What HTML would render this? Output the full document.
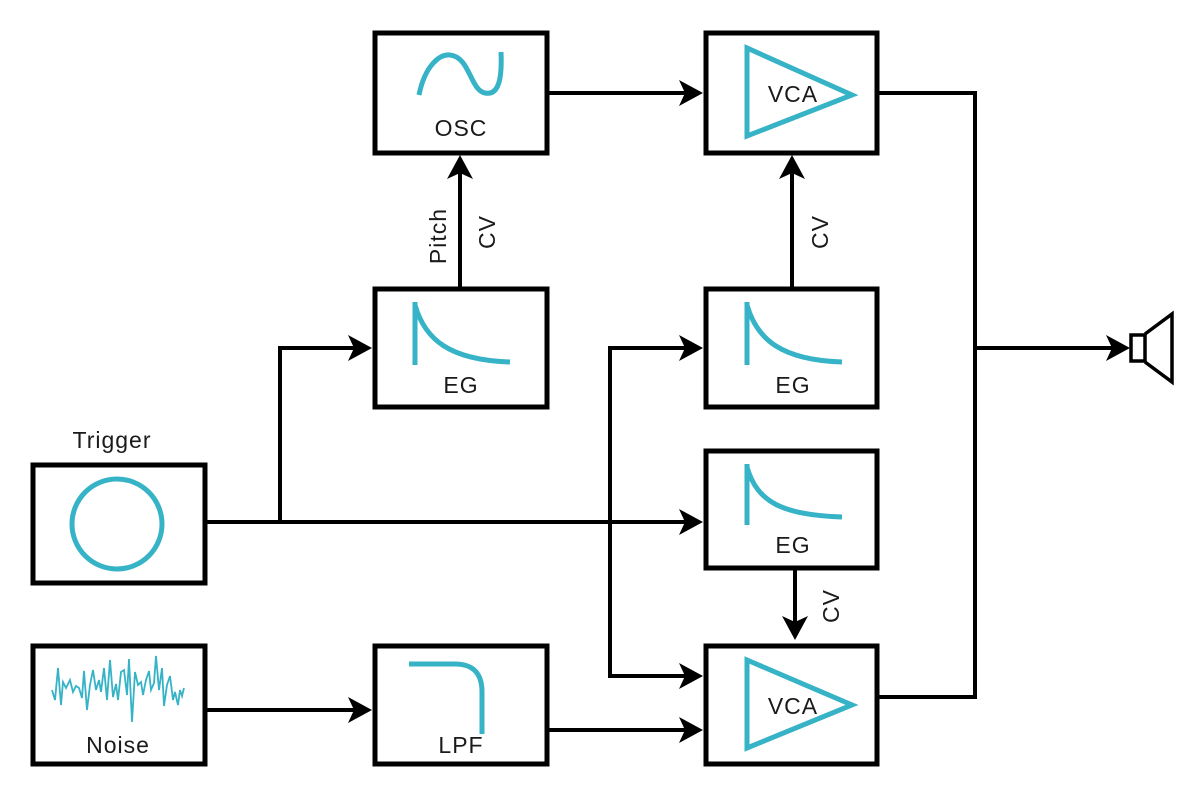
<!DOCTYPE html>
<html><head><style>html,body{margin:0;padding:0;background:#fff}</style></head><body>
<svg width="1200" height="798" xmlns="http://www.w3.org/2000/svg" font-family="Liberation Sans, DejaVu Sans, sans-serif">
<g fill="none" stroke="#000" stroke-width="5">
<rect x="375" y="33" width="172" height="120"/>
<rect x="706" y="33" width="171" height="120"/>
<rect x="375" y="289" width="172" height="118"/>
<rect x="706" y="289" width="171" height="118"/>
<rect x="706" y="451" width="171" height="117"/>
<rect x="33" y="465" width="172" height="118"/>
<rect x="33" y="646" width="172" height="118"/>
<rect x="375" y="646" width="172" height="118"/>
<rect x="706" y="646" width="171" height="118"/>
</g>
<g fill="none" stroke="#000" stroke-width="4">
<path d="M547 93H690"/>
<path d="M877 93H975V697H877"/>
<path d="M975 348H1115"/>
<path d="M205 522H690"/>
<path d="M280 522V348H355"/>
<path d="M690 348H610V676H690"/>
<path d="M460 289V170"/>
<path d="M792 289V170"/>
<path d="M795 568V625"/>
<path d="M205 710H355"/>
<path d="M547 730H690"/>
</g>
<g fill="#000">
<path d="M703 93L679 80L685 93L679 106Z"/>
<path d="M1130 348L1106 335L1112 348L1106 361Z"/>
<path d="M703 522L679 509L685 522L679 535Z"/>
<path d="M372 348L348 335L354 348L348 361Z"/>
<path d="M703 348L679 335L685 348L679 361Z"/>
<path d="M703 676L679 663L685 676L679 689Z"/>
<path d="M372 710L348 697L354 710L348 723Z"/>
<path d="M703 730L679 717L685 730L679 743Z"/>
<path d="M460 155L447 179L460 173L473 179Z"/>
<path d="M792 155L779 179L792 173L805 179Z"/>
<path d="M795 640L782 616L795 622L808 616Z"/>
</g>
<g fill="none" stroke="#000" stroke-width="3.5">
<rect x="1131" y="335" width="14" height="26"/>
<path d="M1145 334L1172 314V382L1145 362"/>
</g>
<g fill="none" stroke="#36b3c6" stroke-width="5">
<path d="M419 95C425 65 440 54 450 55C470 57 470 90 485 93C500 96 502 75 501 52"/>
<path d="M747 48V136L852 95Z"/>
<path d="M747 660V748L852 705Z"/>
<path d="M415 302V365M415 305C425 340 450 360 510 362"/>
<path d="M747 302V365M747 305C757 340 782 360 842 362"/>
<path d="M747 464V525M747 467C757 502 782 515 842 517"/>
<circle cx="117" cy="524" r="45"/>
<path d="M409 664H455Q482 664 482 692V734"/>
</g>
<path fill="none" stroke="#36b3c6" stroke-width="1.8" d="M52 690L55 700L58 668L61 705L63 682L66 688L70 680L73 692L76 686L79 688L82 698L84 671L87 710L90 685L93 670L96 690L99 680L101 692L104 668L107 700L110 660L113 697L116 684L118 700L121 672L124 670L127 695L129 659L132 722L135 672L138 685L141 682L143 695L146 680L149 671L151 690L154 683L156 656L159 690L162 668L164 706L167 685L170 676L173 700L175 692L178 705L180 690L182 696L184 688"/>
<g font-size="23" fill="#1a1a1a" text-anchor="middle" letter-spacing="1">
<text x="461" y="136">OSC</text>
<text x="793" y="102">VCA</text>
<text x="461" y="393">EG</text>
<text x="793" y="393">EG</text>
<text x="793" y="553">EG</text>
<text x="112" y="448">Trigger</text>
<text x="118" y="753">Noise</text>
<text x="461" y="753">LPF</text>
<text x="793" y="714">VCA</text>
<text transform="translate(446 236) rotate(-90)">Pitch</text>
<text transform="translate(495 232) rotate(-90)">CV</text>
<text transform="translate(828 232) rotate(-90)">CV</text>
<text transform="translate(839 606) rotate(-90)">CV</text>
</g>
</svg>
</body></html>
